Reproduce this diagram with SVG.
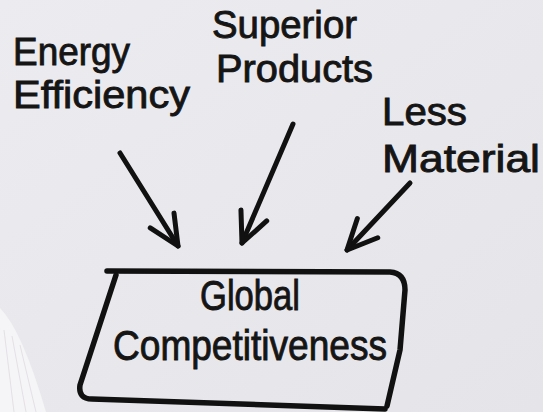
<svg xmlns="http://www.w3.org/2000/svg" width="543" height="412" viewBox="0 0 543 412">
<defs>
<style>
.t{font-family:"Liberation Sans","DejaVu Sans",sans-serif;fill:#151515;stroke:#151515;stroke-width:0.9;font-size:39px}
.g{font-size:42px}
.ln{fill:none;stroke:#111;stroke-width:5;stroke-linecap:round;stroke-linejoin:round}
.box{fill:none;stroke:#111;stroke-width:5.5;stroke-linecap:round;stroke-linejoin:round}
</style>
<linearGradient id="bg" x1="0" y1="0" x2="1" y2="1">
<stop offset="0" stop-color="#ecebef"/>
<stop offset="1" stop-color="#e5e4e8"/>
</linearGradient>
<marker id="arr" markerUnits="userSpaceOnUse" markerWidth="44" markerHeight="44" viewBox="-36 -22 44 44" refX="0" refY="0" orient="auto">
<path d="M-30,-14 L0,0 L-30,14" fill="none" stroke="#111" stroke-width="5" stroke-linecap="round" stroke-linejoin="round"/>
</marker>
</defs>
<rect width="543" height="412" fill="url(#bg)"/>
<g id="shirt">
<path d="M0,308 Q22,330 46,412 L0,412 Z" fill="#f5f4f6"/>
<path d="M4,330 L14,412 M12,336 L26,412 M20,345 L36,412" stroke="#e4e0e6" stroke-width="1" fill="none"/>
</g>
<g id="connectors">
<path class="ln" d="M120,153 L178,246" marker-end="url(#arr)"/>
<path class="ln" d="M293,124 L242,243" marker-end="url(#arr)"/>
<path class="ln" d="M410,183 L347,250" marker-end="url(#arr)"/>
</g>
<g id="n-energy">
<text class="t" x="13" y="65" textLength="117" lengthAdjust="spacingAndGlyphs">Energy</text>
<text class="t" x="13" y="108" textLength="177" lengthAdjust="spacingAndGlyphs">Efficiency</text>
</g>
<g id="n-superior">
<text class="t" x="212" y="38" textLength="145" lengthAdjust="spacingAndGlyphs">Superior</text>
<text class="t" x="216" y="82" textLength="157" lengthAdjust="spacingAndGlyphs">Products</text>
</g>
<g id="n-less">
<text class="t" x="382" y="125" textLength="85" lengthAdjust="spacingAndGlyphs">Less</text>
<text class="t" x="382" y="172" textLength="158" lengthAdjust="spacingAndGlyphs">Material</text>
</g>
<g id="n-global">
<path class="box" d="M107,271 L390,272 Q405,273 405,290 L400,350 L387,406"/>
<path class="box" d="M116,275 L80,385 Q78,399 92,399 L385,409"/>
<text class="t g" x="200" y="310" textLength="100" lengthAdjust="spacingAndGlyphs">Global</text>
<text class="t g" x="113" y="360" textLength="274" lengthAdjust="spacingAndGlyphs">Competitiveness</text>
</g>
</svg>
